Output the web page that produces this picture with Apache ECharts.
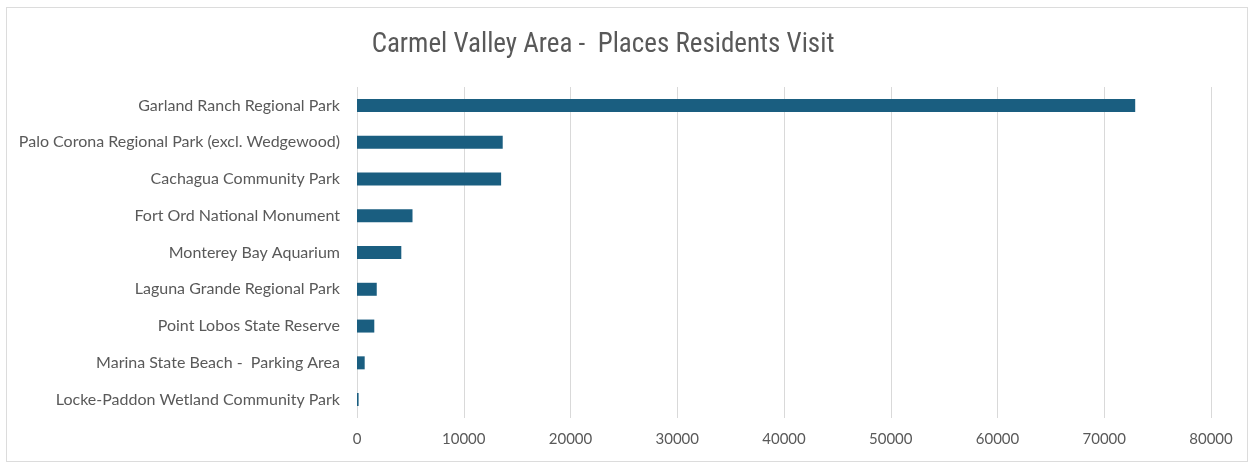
<!DOCTYPE html>
<html>
<head>
<meta charset="utf-8">
<script src="https://cdn.jsdelivr.net/npm/echarts@6/dist/echarts.min.js"></script>
<style>
  html, body { margin: 0; padding: 0; background: #ffffff; }
  #frame { position: absolute; left: 6px; top: 7px; width: 1242px; height: 455px; border: 1px solid #dcdcdc; box-sizing: border-box; }
  #chart { position: absolute; left: 0; top: 0; width: 1251px; height: 464px; }
</style>
</head>
<body>
<div id="frame"></div>
<div id="chart"></div>
<script>
const titleText = "Carmel Valley Area -  Places Residents Visit";
const categories = [
  "Garland Ranch Regional Park",
  "Palo Corona Regional Park (excl. Wedgewood)",
  "Cachagua Community Park",
  "Fort Ord National Monument",
  "Monterey Bay Aquarium",
  "Laguna Grande Regional Park",
  "Point Lobos State Reserve",
  "Marina State Beach -  Parking Area",
  "Locke-Paddon Wetland Community Park"
];
const visits = [72900, 13650, 13500, 5200, 4150, 1850, 1620, 720, 150];
const xTicks = [0, 10000, 20000, 30000, 40000, 50000, 60000, 70000, 80000];

const chart = echarts.init(document.getElementById('chart'), null, { renderer: 'canvas' });
chart.setOption({
  backgroundColor: 'transparent',
  animation: false,
  title: {
    text: titleText,
    left: 598,
    textAlign: 'center',
    top: 27,
    textStyle: { fontFamily: 'Liberation Sans Narrow, Roboto Condensed, sans-serif', fontSize: 27, fontWeight: 'normal', color: '#595959' }
  },
  grid: { left: 357, right: 40, top: 87, bottom: 46, containLabel: false },
  xAxis: {
    type: 'value',
    min: xTicks[0],
    max: xTicks[xTicks.length - 1],
    interval: xTicks[1] - xTicks[0],
    axisLine: { show: false },
    axisTick: { show: false },
    axisLabel: { color: '#595959', fontSize: 15, fontFamily: 'Lato, Noto Sans, sans-serif', margin: 14, formatter: function (v) { return String(v); } },
    splitLine: { show: true, lineStyle: { color: '#d9d9d9', width: 1 } }
  },
  yAxis: {
    type: 'category',
    data: categories,
    inverse: true,
    axisLine: { show: false },
    axisTick: { show: false },
    axisLabel: { color: '#595959', fontSize: 16, fontFamily: 'Lato, Noto Sans, sans-serif', margin: 17 }
  },
  series: [{
    type: 'bar',
    data: visits,
    barWidth: 13,
    itemStyle: { color: '#1a5e80' }
  }]
});
</script>
</body>
</html>
